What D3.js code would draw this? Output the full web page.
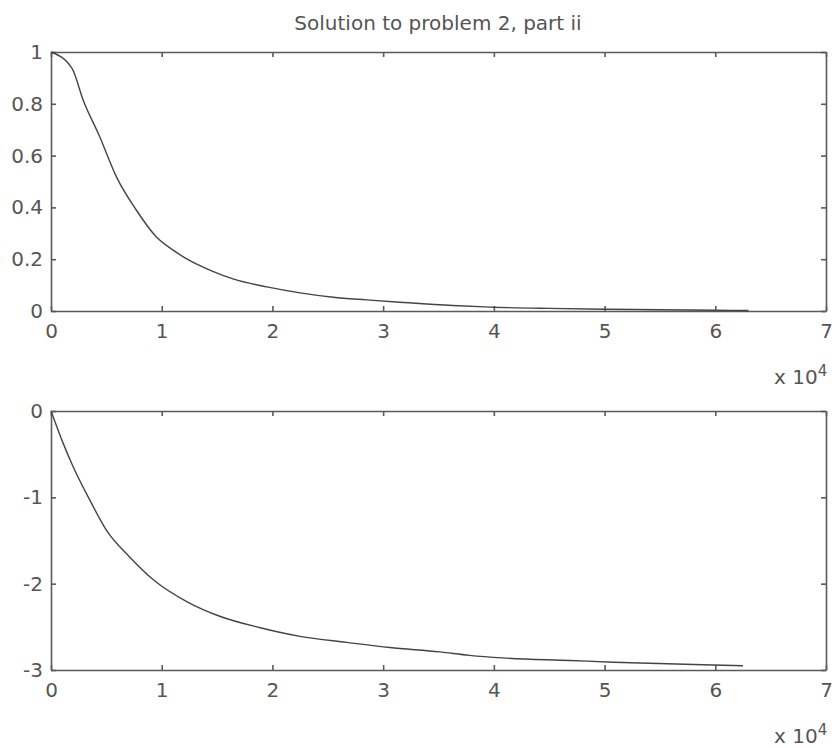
<!DOCTYPE html>
<html>
<head>
<meta charset="utf-8">
<script src="https://cdn.jsdelivr.net/npm/d3@7"></script>
<style>
body { margin: 0; background: #fff; }
svg { display: block; }
.axis text { font-family: "DejaVu Sans", sans-serif; font-size: 20px; fill: #555; }
.axis path, .axis line { stroke: #5a5a5a; stroke-width: 1.6; }
</style>
</head>
<body>
<div id="chart"></div>
<script>
var width = 837, height = 748;

var titleText = "Solution to problem 2, part ii";

// x values in units of 10^4
var topX = [0, 0.19, 0.29, 0.44, 0.59, 0.77, 0.95, 1.1, 1.23, 1.45, 1.65, 1.95, 2.25, 2.55, 2.85, 3.15, 3.63, 3.97, 4.5, 5.0, 5.5, 6.0, 6.3];
var topY = [1, 0.937, 0.815, 0.673, 0.519, 0.39, 0.287, 0.236, 0.2, 0.155, 0.123, 0.093, 0.07, 0.053, 0.043, 0.034, 0.021, 0.015, 0.01, 0.007, 0.005, 0.003, 0.002];

var botX = [0, 0.11, 0.2, 0.35, 0.5, 0.71, 0.93, 1.23, 1.53, 1.89, 2.25, 2.67, 3.06, 3.51, 3.78, 4.08, 4.69, 5.08, 5.89, 6.25];
var botY = [0, -0.375, -0.645, -1.03, -1.38, -1.69, -1.96, -2.21, -2.38, -2.51, -2.61, -2.68, -2.74, -2.79, -2.83, -2.86, -2.89, -2.91, -2.94, -2.95];

var xTicks = [0, 1, 2, 3, 4, 5, 6, 7];
var topYTicks = [0, 0.2, 0.4, 0.6, 0.8, 1];
var botYTicks = [-3, -2, -1, 0];

var svg = d3.select("#chart").append("svg")
    .attr("width", width)
    .attr("height", height);

svg.append("text")
    .attr("x", 438)
    .attr("y", 30)
    .attr("text-anchor", "middle")
    .style("font-family", "DejaVu Sans, sans-serif")
    .style("font-size", "20px")
    .style("fill", "#555")
    .text(titleText);

function drawPanel(top, bottom, xs, ys, yDomain, yTicks, yFormat) {
    var x = d3.scaleLinear().domain([0, 7]).range([51, 826]);
    var y = d3.scaleLinear().domain(yDomain).range([bottom, top]);

    var g = svg.append("g");

    // bottom axis with labels
    g.append("g").attr("class", "axis")
        .attr("transform", "translate(0," + bottom + ")")
        .call(d3.axisBottom(x).tickValues(xTicks).tickSizeInner(-5).tickSizeOuter(0).tickPadding(13).tickFormat(d3.format("d")));
    // top axis, ticks only
    g.append("g").attr("class", "axis")
        .attr("transform", "translate(0," + top + ")")
        .call(d3.axisTop(x).tickValues(xTicks).tickSizeInner(-5).tickSizeOuter(0).tickFormat(""));
    // left axis with labels
    g.append("g").attr("class", "axis")
        .attr("transform", "translate(51,0)")
        .call(d3.axisLeft(y).tickValues(yTicks).tickSizeInner(-5).tickSizeOuter(0).tickPadding(8).tickFormat(yFormat));
    // right axis, ticks only
    g.append("g").attr("class", "axis")
        .attr("transform", "translate(826,0)")
        .call(d3.axisRight(y).tickValues(yTicks).tickSizeInner(-5).tickSizeOuter(0).tickFormat(""));

    var line = d3.line()
        .x(function(d) { return x(d[0]); })
        .y(function(d) { return y(d[1]); })
        .curve(d3.curveMonotoneX);

    g.append("path")
        .datum(xs.map(function(v, i) { return [v, ys[i]]; }))
        .attr("d", line)
        .attr("fill", "none")
        .attr("stroke", "#444")
        .attr("stroke-width", 1.4);

    // exponent label
    var lab = g.append("text")
        .attr("x", 774)
        .attr("y", bottom + 73)
        .style("font-family", "DejaVu Sans, sans-serif")
        .style("font-size", "20px")
        .style("fill", "#555");
    lab.append("tspan").text("x 10");
    lab.append("tspan").attr("dy", -8).style("font-size", "15px").text("4");
}

// plain hyphen for negatives, like the original
function fmt(d) { return String(d); }

drawPanel(52, 311, topX, topY, [0, 1], topYTicks, fmt);
drawPanel(411, 670, botX, botY, [-3, 0], botYTicks, fmt);
</script>
</body>
</html>
